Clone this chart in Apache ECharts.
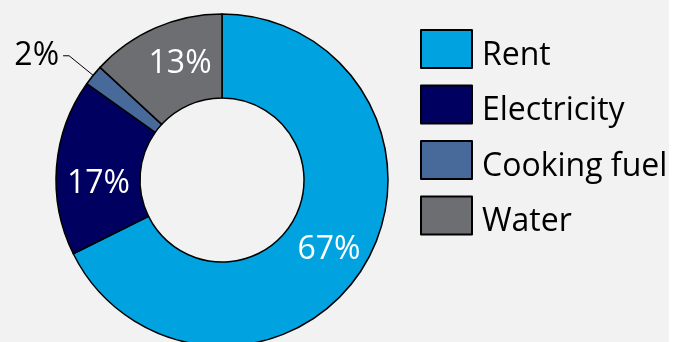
<!DOCTYPE html>
<html>
<head>
<meta charset="utf-8">
<script src="https://cdn.jsdelivr.net/npm/echarts@6/dist/echarts.min.js"></script>
<style>
  html, body { margin: 0; padding: 0; background: #ffffff; }
  #chart { width: 669px; height: 342px; background: #f2f2f2; }
</style>
</head>
<body>
<div id="chart"></div>
<script>
// Household spending shares (%)
const categories = ['Rent', 'Electricity', 'Cooking fuel', 'Water'];
const shares = [67, 17, 2, 13];
const colors = ['#00A3E0', '#000060', '#476A9A', '#6D6E71'];

// the small slice gets an outside callout, the rest are labelled inside
const calloutCategories = ['Cooking fuel'];

const FONT = '"Open Sans", sans-serif';

// nudges for the inside labels
const insideNudge = {
  'Rent': [-1, 3],
  'Electricity': [3, 14],
  'Water': [9, 0]
};

const pieData = categories.map((name, i) => ({
  name,
  value: shares[i],
  itemStyle: { color: colors[i] },
  label: { show: calloutCategories.indexOf(name) < 0 }
}));

// transparent ring reaching the middle of the donut, carrying the callout line
const calloutData = categories.map((name, i) => ({
  name,
  value: shares[i],
  itemStyle: { color: 'rgba(0,0,0,0)', borderWidth: 0 },
  label: { show: calloutCategories.indexOf(name) >= 0 },
  labelLine: { show: calloutCategories.indexOf(name) >= 0 }
}));

const chart = echarts.init(document.getElementById('chart'), null, { renderer: 'canvas' });

chart.setOption({
  backgroundColor: '#f2f2f2',
  animation: false,
  legend: {
    orient: 'vertical',
    left: 420,
    top: 26.5,
    padding: 0,
    itemWidth: 51,
    itemHeight: 38,
    itemGap: 10.5,
    icon: 'rect',
    selectedMode: false,
    data: categories,
    itemStyle: { borderColor: '#000000', borderWidth: 2 },
    // a tall empty strut sets the line box; the name sits at its bottom
    formatter: name => '{s|}{t|' + name + '}',
    textStyle: {
      fontFamily: FONT,
      fontSize: 32,
      color: '#000000',
      rich: {
        s: { width: 0, height: 45, lineHeight: 45 },
        t: {
          fontFamily: FONT,
          fontSize: 32,
          color: '#000000',
          lineHeight: 38,
          verticalAlign: 'bottom',
          padding: [0, 0, 0, 5]
        }
      }
    }
  },
  series: [
    {
      name: 'Spending',
      type: 'pie',
      center: [222, 180],
      radius: [82, 166],
      startAngle: 90,
      clockwise: true,
      avoidLabelOverlap: false,
      emphasis: { disabled: true },
      itemStyle: { borderColor: '#000000', borderWidth: 1.5 },
      label: {
        position: 'inside',
        formatter: '{c}%',
        fontFamily: FONT,
        fontSize: 32,
        color: '#ffffff'
      },
      labelLine: { show: false },
      labelLayout: function (params) {
        const n = insideNudge[categories[params.dataIndex]];
        return n ? { dx: n[0], dy: n[1] } : {};
      },
      data: pieData
    },
    {
      name: 'Callout',
      type: 'pie',
      silent: true,
      center: [222, 180],
      radius: [82, 124],
      startAngle: 90,
      clockwise: true,
      avoidLabelOverlap: false,
      emphasis: { disabled: true },
      label: {
        position: 'outside',
        formatter: '{c}%',
        fontFamily: FONT,
        fontSize: 32,
        color: '#000000',
        distanceToLabelLine: 4
      },
      labelLine: {
        length: 73,
        length2: 6,
        lineStyle: { color: '#000000', width: 1 }
      },
      data: calloutData
    }
  ]
});
</script>
</body>
</html>
